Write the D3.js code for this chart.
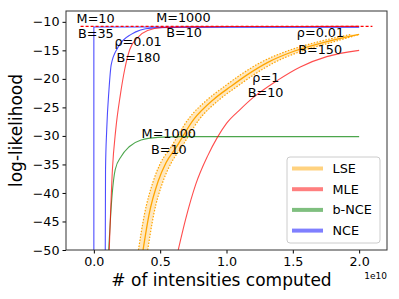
<!DOCTYPE html>
<html>
<head>
<meta charset="utf-8">
<script src="https://cdn.jsdelivr.net/npm/d3@7"></script>
<style>
  body { margin: 0; background: white; }
  text { font-family: "DejaVu Sans", sans-serif; }
</style>
</head>
<body>
<div id="graph"></div>
<script>
// x values in units of 1e10 intensities
const xTicks = [0.0, 0.5, 1.0, 1.5, 2.0];
const yTicks = [-10, -15, -20, -25, -30, -35, -40, -45, -50];

// NCE, M=10 B=35
const nceAX = [0, 0, 2.0];
const nceAY = [-50, -10.9, -10.9];
// NCE, rho=0.01 B=180
const nceBX = [0.086, 0.088, 0.097, 0.114, 0.131, 0.181, 0.281, 0.431, 0.656, 1.0, 2.0];
const nceBY = [-50, -35.9, -28.9, -21.9, -17.5, -14.5, -12.2, -11.1, -10.95, -10.9, -10.9];
// MLE, M=1000 B=10
const mleAX = [0.116, 0.14, 0.165, 0.2, 0.232, 0.27, 0.33, 0.405, 0.515, 0.74, 1.03, 2.0];
const mleAY = [-50, -35.9, -28.9, -22.75, -18.4, -14.9, -12.75, -11.5, -11.0, -10.88, -10.82, -10.8];
// MLE, rho=1 B=10
const mleBX = [0.636, 0.693, 0.768, 0.858, 0.93, 1.0, 1.106, 1.2, 1.381, 1.556, 1.756, 2.0];
const mleBY = [-50, -44.5, -38.5, -33.5, -30.3, -27.8, -25.3, -23.3, -20.3, -17.9, -16.1, -15.0];
// b-NCE, M=1000 B=10
const bnceX = [0.112, 0.136, 0.161, 0.206, 0.266, 0.356, 0.483, 0.656, 2.0];
const bnceY = [-50, -40.8, -35.9, -33.6, -31.9, -30.7, -30.25, -30.12, -30.12];
// LSE mean and spread
const lseX = [0.371, 0.416, 0.484, 0.544, 0.619, 0.753, 0.903, 1.031, 1.158, 1.308, 1.503, 1.758, 2.0];
const lseY = [-50, -43.8, -38.0, -34.7, -32.05, -27.1, -23.6, -21.35, -19.25, -17.14, -15.2, -13.45, -12.2];
const lseXLo = [0.336, 0.381, 0.447, 0.504, 0.579, 0.711, 0.858, 0.983, 1.108, 1.256, 1.448, 1.700, 1.94];
const lseXHi = [0.406, 0.451, 0.521, 0.584, 0.659, 0.795, 0.948, 1.079, 1.208, 1.360, 1.558, 1.816, 2.0];
// true log-likelihood (dashed)
const trueX = [-0.1, 2.1];
const trueY = [-10.8, -10.8];

const legendNames = ["LSE", "MLE", "b-NCE", "NCE"];
const legendColors = ["#ffa500", "#ff0000", "#008000", "#0000ff"];

const labels = [
  { t: "M=10", x: -0.13, y: -9.5 },
  { t: "B=35", x: -0.12, y: -12.0 },
  { t: "ρ=0.01", x: 0.155, y: -13.5 },
  { t: "B=180", x: 0.17, y: -16.2 },
  { t: "M=1000", x: 0.47, y: -9.3 },
  { t: "B=10", x: 0.545, y: -11.9 },
  { t: "ρ=0.01", x: 1.53, y: -11.9 },
  { t: "B=150", x: 1.54, y: -14.9 },
  { t: "ρ=1", x: 1.195, y: -19.7 },
  { t: "B=10", x: 1.16, y: -22.4 },
  { t: "M=1000", x: 0.36, y: -29.6 },
  { t: "B=10", x: 0.43, y: -32.4 }
];

const W = 399, H = 299;
const margin = { top: 11, right: 12, bottom: 49, left: 66 };

const svg = d3.select("#graph").append("svg").attr("width", W).attr("height", H);

const x = d3.scaleLinear().domain([-0.21, 2.21]).range([margin.left, W - margin.right]);
const y = d3.scaleLinear().domain([-50, -8.1]).range([H - margin.bottom, margin.top]);

svg.append("clipPath").attr("id", "clip")
  .append("rect")
  .attr("x", margin.left).attr("y", margin.top)
  .attr("width", W - margin.left - margin.right)
  .attr("height", H - margin.top - margin.bottom);

const plot = svg.append("g").attr("clip-path", "url(#clip)");

const zip = (xs, ys) => xs.map((v, i) => [v, ys[i]]);
const line = d3.line().x(d => x(d[0])).y(d => y(d[1])).curve(d3.curveMonotoneX);
const straight = d3.line().x(d => x(d[0])).y(d => y(d[1]));

// LSE band
const band = lseY.map((v, i) => ({ y: v, lo: lseXLo[i], hi: lseXHi[i] }));
plot.append("path")
  .attr("d", d3.area().y(d => y(d.y)).x0(d => x(d.lo)).x1(d => x(d.hi)).curve(d3.curveMonotoneY)(band))
  .attr("fill", "#ffa500").attr("fill-opacity", 0.25);
plot.append("path")
  .attr("d", line(zip(lseXLo, lseY)))
  .attr("fill", "none").attr("stroke", "#ffa500").attr("stroke-width", 1.2)
  .attr("stroke-dasharray", "1.5,1.5");
plot.append("path")
  .attr("d", line(zip(lseXHi, lseY)))
  .attr("fill", "none").attr("stroke", "#ffa500").attr("stroke-width", 1.2)
  .attr("stroke-dasharray", "1.5,1.5");
plot.append("path")
  .attr("d", line(zip(lseX, lseY)))
  .attr("fill", "none").attr("stroke", "#ffa500").attr("stroke-width", 1.3);

const curves = [
  { d: straight(zip(nceAX, nceAY)), c: "#0000ff" },
  { d: line(zip(nceBX, nceBY)), c: "#0000ff" },
  { d: line(zip(bnceX, bnceY)), c: "#008000" },
  { d: line(zip(mleAX, mleAY)), c: "#ff0000" },
  { d: line(zip(mleBX, mleBY)), c: "#ff0000" }
];
curves.forEach(k => {
  plot.append("path").attr("d", k.d)
    .attr("fill", "none").attr("stroke", k.c).attr("stroke-width", 1.1)
    .attr("stroke-opacity", 0.7);
});

plot.append("path")
  .attr("d", straight(zip(trueX, trueY)))
  .attr("fill", "none").attr("stroke", "#ff0000").attr("stroke-width", 1.2)
  .attr("stroke-dasharray", "3,2");

// annotations
svg.append("g").selectAll("text").data(labels).join("text")
  .attr("x", d => x(d.x)).attr("y", d => y(d.y))
  .attr("dy", "0.35em")
  .attr("font-size", 12.8)
  .text(d => d.t);

// axes
const fmt = d => d3.format(".1f")(d);
const gx = svg.append("g")
  .attr("transform", `translate(0,${H - margin.bottom})`)
  .call(d3.axisBottom(x).tickValues(xTicks).tickFormat(fmt).tickSize(3.5).tickPadding(3));
const gy = svg.append("g")
  .attr("transform", `translate(${margin.left},0)`)
  .call(d3.axisLeft(y).tickValues(yTicks).tickFormat(d => d < 0 ? "\u2212" + Math.abs(d) : d).tickSize(3.5).tickPadding(3));
[gx, gy].forEach(g => {
  g.select(".domain").remove();
  g.selectAll("text").attr("font-size", 12.7).attr("fill", "#000").attr("font-family", "DejaVu Sans");
  g.selectAll("line").attr("stroke", "#000");
});

// frame
svg.append("rect")
  .attr("x", margin.left).attr("y", margin.top)
  .attr("width", W - margin.left - margin.right)
  .attr("height", H - margin.top - margin.bottom)
  .attr("fill", "none").attr("stroke", "#333").attr("stroke-width", 1);

svg.append("text")
  .attr("x", (margin.left + W - margin.right) / 2 - 5).attr("y", 286)
  .attr("text-anchor", "middle").attr("font-size", 17)
  .text("# of intensities computed");
svg.append("text")
  .attr("transform", `translate(22,${(margin.top + H - margin.bottom) / 2}) rotate(-90)`)
  .attr("text-anchor", "middle").attr("font-size", 17)
  .text("log-likelihood");
svg.append("text")
  .attr("x", W - margin.right).attr("y", 279)
  .attr("text-anchor", "end").attr("font-size", 9)
  .text("1e10");

// legend
const lg = svg.append("g").attr("transform", "translate(287,157)");
lg.append("rect").attr("width", 93).attr("height", 86).attr("rx", 3)
  .attr("fill", "white").attr("fill-opacity", 0.8).attr("stroke", "#ccc");
legendNames.forEach((n, i) => {
  const yy = 11.5 + i * 20.7;
  lg.append("line").attr("x1", 5).attr("x2", 36).attr("y1", yy).attr("y2", yy)
    .attr("stroke", legendColors[i]).attr("stroke-width", 4).attr("stroke-opacity", 0.5);
  lg.append("text").attr("x", 45.5).attr("y", yy).attr("dy", "0.35em")
    .attr("font-size", 12.8).text(n);
});
</script>
</body>
</html>
